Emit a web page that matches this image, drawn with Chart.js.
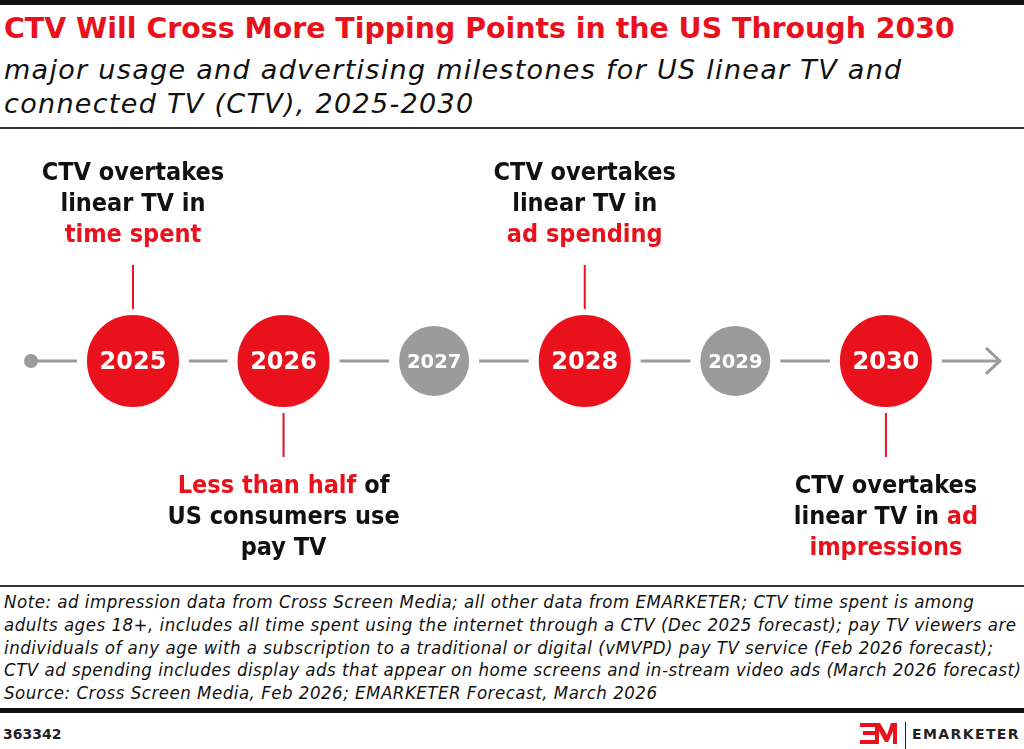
<!DOCTYPE html>
<html>
<head>
<meta charset="utf-8">
<script src="https://cdn.jsdelivr.net/npm/chart.js@4.4.1/dist/chart.umd.min.js"></script>
<style>
  html, body { margin: 0; padding: 0; background: #fff; }
  body { width: 1024px; height: 749px; position: relative; overflow: hidden; font-family: "DejaVu Sans", sans-serif; color: #111; }
  .rule { position: absolute; left: 0; width: 1024px; }
  #title { position: absolute; left: 4px; top: 12px; font-size: 28.4px; line-height: 34px; font-weight: bold; color: #e8111c; white-space: nowrap; }
  #subtitle { position: absolute; left: 4px; top: 53px; font-size: 27px; line-height: 34px; letter-spacing: 1.3px; font-style: oblique; white-space: nowrap; color: #111; }
  #chartBox { position: absolute; left: 0; top: 130px; width: 1024px; height: 455px; }
  #notes { position: absolute; left: 4px; top: 591px; font-family: "DejaVu Sans Condensed", "DejaVu Sans", sans-serif; font-stretch: condensed; font-size: 18.5px; line-height: 22.8px; letter-spacing: 0.5px; font-style: oblique; white-space: nowrap; color: #111; }
  #chartId { position: absolute; left: 3px; top: 726px; font-size: 14px; line-height: 16px; font-weight: bold; color: #222; }
  #brand { position: absolute; left: 912px; top: 726px; font-size: 14px; line-height: 16px; font-weight: bold; letter-spacing: 1.4px; color: #222; }
  #logo { position: absolute; left: 858px; top: 720px; }
</style>
</head>
<body>
<div class="rule" style="top:0;height:5px;background:#111"></div>
<div id="title">CTV Will Cross More Tipping Points in the US Through 2030</div>
<div id="subtitle">major usage and advertising milestones for US linear TV and<br>connected TV (CTV), 2025-2030</div>
<div class="rule" style="top:127px;height:2px;background:#333"></div>

<div id="chartBox"><canvas id="timeline"></canvas></div>

<div class="rule" style="top:585px;height:2px;background:#333"></div>
<div id="notes"></div>
<div class="rule" style="top:708px;height:5px;background:#111"></div>
<div id="chartId">363342</div>
<svg id="logo" width="60" height="29" viewBox="0 0 60 29">
  <g fill="#e8111c">
    <rect x="2" y="3" width="16" height="4"/>
    <rect x="5" y="11" width="13" height="4"/>
    <rect x="2" y="20" width="16" height="4"/>
    <polygon points="17,3 22,3 29,15 33,3 39,3 39,24 35,24 35,11 30,22 27,22 21,11 21,24 17,24"/>
  </g>
  <rect x="47" y="2" width="1" height="27" fill="#222"/>
</svg>
<div id="brand">EMARKETER</div>

<script>
const years = [2025, 2026, 2027, 2028, 2029, 2030];
const isMilestone = [true, true, false, true, false, true];
const labelSide = ['above', 'below', null, 'above', null, 'below'];
// each line is a list of [text, highlighted]
const milestoneLabels = [
  [[['CTV overtakes', false]], [['linear TV in', false]], [['time spent', true]]],
  [[['Less than half', true], [' of', false]], [['US consumers use', false]], [['pay TV', false]]],
  null,
  [[['CTV overtakes', false]], [['linear TV in', false]], [['ad spending', true]]],
  null,
  [[['CTV overtakes', false]], [['linear TV in ', false], ['ad', true]], [['impressions', true]]]
];
const axisRange = [2024.117, 2030.917];
const timelineSpan = [2024.323, 2030.757];

const notes = [
  'Note: ad impression data from Cross Screen Media; all other data from EMARKETER; CTV time spent is among',
  'adults ages 18+, includes all time spent using the internet through a CTV (Dec 2025 forecast); pay TV viewers are',
  'individuals of any age with a subscription to a traditional or digital (vMVPD) pay TV service (Feb 2026 forecast);',
  'CTV ad spending includes display ads that appear on home screens and in-stream video ads (March 2026 forecast)',
  'Source: Cross Screen Media, Feb 2026; EMARKETER Forecast, March 2026'
];
document.getElementById('notes').innerHTML = notes.join('<br>');

const RED = '#e8111c';
const GRAY = '#9b9b9b';
const LABEL_FONT = 'bold 25px "DejaVu Sans Condensed", "DejaVu Sans", sans-serif';

const milestonePlugin = {
  id: 'milestones',
  afterDatasetsDraw(chart) {
    const { ctx, scales: { x, y } } = chart;
    const y0 = y.getPixelForValue(0);
    ctx.save();

    // arrow head at the end of the timeline
    const xe = x.getPixelForValue(timelineSpan[1]);
    ctx.strokeStyle = GRAY;
    ctx.lineWidth = 3;
    ctx.beginPath();
    ctx.moveTo(xe - 14, y0 - 13);
    ctx.lineTo(xe, y0);
    ctx.lineTo(xe - 14, y0 + 13);
    ctx.stroke();

    years.forEach((yr, i) => {
      const px = x.getPixelForValue(yr);
      // year inside the circle
      ctx.fillStyle = '#fff';
      ctx.textAlign = 'center';
      ctx.textBaseline = 'alphabetic';
      ctx.font = isMilestone[i] ? 'bold 24px "DejaVu Sans", sans-serif' : 'bold 19.5px "DejaVu Sans", sans-serif';
      ctx.fillText(String(yr), px, y0 + (isMilestone[i] ? 8.5 : 7));

      const lines = milestoneLabels[i];
      if (!lines) return;
      const above = labelSide[i] === 'above';

      ctx.strokeStyle = RED;
      ctx.lineWidth = 2;
      ctx.beginPath();
      if (above) { ctx.moveTo(px, y0 - 96); ctx.lineTo(px, y0 - 52); }
      else { ctx.moveTo(px, y0 + 52); ctx.lineTo(px, y0 + 96); }
      ctx.stroke();

      ctx.font = LABEL_FONT;
      ctx.textAlign = 'left';
      const base = above ? y0 - 181 : y0 + 132;
      lines.forEach((parts, li) => {
        const total = parts.reduce((s, p) => s + ctx.measureText(p[0]).width, 0);
        let cx = px - total / 2;
        parts.forEach(([txt, hi]) => {
          ctx.fillStyle = hi ? RED : '#111';
          ctx.fillText(txt, cx, base + li * 31);
          cx += ctx.measureText(txt).width;
        });
      });
    });
    ctx.restore();
  }
};

new Chart(document.getElementById('timeline'), {
  data: {
    datasets: [
      {
        type: 'scatter',
        data: years.map(yr => ({ x: yr, y: 0 })),
        pointRadius: ctx => isMilestone[ctx.dataIndex] ? 51 : 40,
        pointBackgroundColor: ctx => isMilestone[ctx.dataIndex] ? RED : GRAY,
        pointBorderColor: '#fff',
        pointBorderWidth: 10,
        order: 1
      },
      {
        type: 'line',
        data: timelineSpan.map(v => ({ x: v, y: 0 })),
        borderColor: GRAY,
        borderWidth: 3,
        pointRadius: [7, 0],
        pointBackgroundColor: GRAY,
        pointBorderWidth: 0,
        order: 2
      }
    ]
  },
  options: {
    responsive: true,
    maintainAspectRatio: false,
    animation: false,
    events: [],
    layout: { autoPadding: false, padding: 0 },
    plugins: { legend: { display: false }, tooltip: { enabled: false } },
    scales: {
      x: { type: 'linear', min: axisRange[0], max: axisRange[1], display: false },
      y: { type: 'linear', min: -0.97, max: 1, display: false }
    }
  },
  plugins: [milestonePlugin]
});
</script>
</body>
</html>
